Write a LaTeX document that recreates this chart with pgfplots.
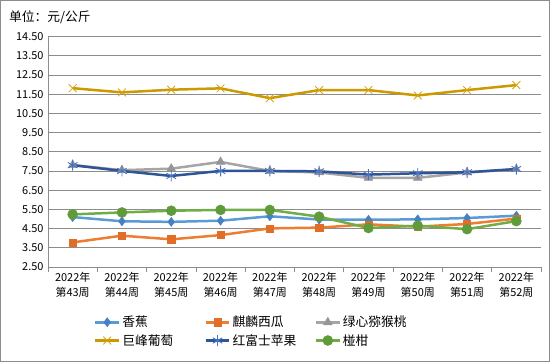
\documentclass[border=0pt]{standalone}
\usepackage{pgfplots}
\pgfplotsset{compat=1.18}
\usepackage{fontspec}
\setmainfont{Noto Sans CJK SC}
\definecolor{bananaL}{RGB}{91,155,213}
\definecolor{bananaM}{RGB}{70,130,195}
\definecolor{melonL}{RGB}{237,125,49}
\definecolor{melonM}{RGB}{225,110,40}
\definecolor{kiwiL}{RGB}{165,165,165}
\definecolor{kiwiM}{RGB}{150,150,150}
\definecolor{grapeL}{RGB}{204,153,0}
\definecolor{grapeM}{RGB}{214,165,20}
\definecolor{appleL}{RGB}{47,85,151}
\definecolor{appleM}{RGB}{68,114,196}
\definecolor{orangeL}{RGB}{112,173,71}
\definecolor{orangeM}{RGB}{95,155,58}
\definecolor{gridc}{RGB}{140,140,140}
\begin{document}
\begin{tikzpicture}
\draw[gridc, line width=1bp] (0.5bp,0.5bp) rectangle (549.5bp,361.5bp);
\node[anchor=west, inner sep=0pt, font=\fontsize{12.8}{14}\selectfont] at (9bp,345bp) {单位：元/公斤};
\begin{axis}[
  at={(48bp,95bp)}, anchor=south west,
  scale only axis, width=493bp, height=230.5bp,
  xmin=-0.5, xmax=9.5, ymin=2.5, ymax=14.5,
  ytick={2.5,3.5,...,14.5},
  xtick={0,...,9},
  xticklabels={{2022年\\第43周},{2022年\\第44周},{2022年\\第45周},{2022年\\第46周},{2022年\\第47周},{2022年\\第48周},{2022年\\第49周},{2022年\\第50周},{2022年\\第51周},{2022年\\第52周}},
  minor xtick={-0.5,0.5,...,9.5},
  major tick length=0pt, minor tick length=5bp,
  tick align=outside,
  axis x line*=bottom, axis y line*=left,
  axis line style={gridc, line width=0.8bp},
  tick style={gridc, line width=0.8bp},
  ymajorgrids, grid style={gridc, line width=0.8bp},
  /pgf/number format/assume math mode=true,
  yticklabel={\pgfmathprintnumber[fixed,fixed zerofill,precision=2]{\tick}},
  yticklabel style={font=\fontsize{11}{12}\selectfont, xshift=-1bp},
  xticklabel style={font=\fontsize{11}{14.3}\selectfont, align=center, yshift=-2bp},
  legend columns=3,
  legend cell align=left,
  legend style={draw=none, fill=none, at={(0.087,-0.195)}, anchor=north west,
    font=\fontsize{12.8}{14}\selectfont, row sep=2bp},
  legend image code/.code={\draw[mark repeat=2,mark phase=2] plot coordinates {(0cm,0cm) (0.42cm,0cm) (0.84cm,0cm)};},
  every axis plot/.append style={line width=2.5bp},
]
\addplot[bananaL, mark=diamond*, mark size=4.5bp, mark options={fill=bananaM, draw=bananaM, solid, line width=0.5bp}]
 coordinates {(0,5.10)(1,4.88)(2,4.85)(3,4.91)(4,5.14)(5,4.97)(6,4.96)(7,4.98)(8,5.05)(9,5.17)};
\addlegendentry{\makebox[80bp][l]{香蕉}}
\addplot[melonL, mark=square*, mark size=3.6bp, mark options={fill=melonM, draw=melonM, solid, line width=0.5bp}]
 coordinates {(0,3.78)(1,4.13)(2,3.94)(3,4.16)(4,4.51)(5,4.55)(6,4.72)(7,4.60)(8,4.74)(9,5.02)};
\addlegendentry{\makebox[80bp][l]{麒麟西瓜}}
\addplot[kiwiL, mark=triangle*, mark size=5bp, mark options={fill=kiwiM, draw=kiwiM, solid, line width=0.5bp}]
 coordinates {(0,7.81)(1,7.54)(2,7.62)(3,7.97)(4,7.50)(5,7.42)(6,7.14)(7,7.14)(8,7.42)(9,7.59)};
\addlegendentry{绿心猕猴桃}
\addplot[grapeL, mark=x, mark size=5.5bp, mark options={draw=grapeM, solid, line width=0.8bp}]
 coordinates {(0,11.81)(1,11.59)(2,11.73)(3,11.80)(4,11.29)(5,11.71)(6,11.71)(7,11.43)(8,11.71)(9,11.97)};
\addlegendentry{\makebox[80bp][l]{巨峰葡萄}}
\addplot[appleL, mark=asterisk, mark size=5.5bp, mark options={draw=appleM, solid, line width=0.9bp}]
 coordinates {(0,7.80)(1,7.50)(2,7.24)(3,7.50)(4,7.50)(5,7.48)(6,7.31)(7,7.38)(8,7.43)(9,7.60)};
\addlegendentry{\makebox[80bp][l]{红富士苹果}}
\addplot[orangeL, mark=*, mark size=5bp, mark options={fill=orangeM, draw=orangeM, solid, line width=0.5bp}]
 coordinates {(0,5.24)(1,5.34)(2,5.43)(3,5.47)(4,5.47)(5,5.12)(6,4.53)(7,4.65)(8,4.47)(9,4.89)};
\addlegendentry{椪柑}
\end{axis}
\end{tikzpicture}
\end{document}
